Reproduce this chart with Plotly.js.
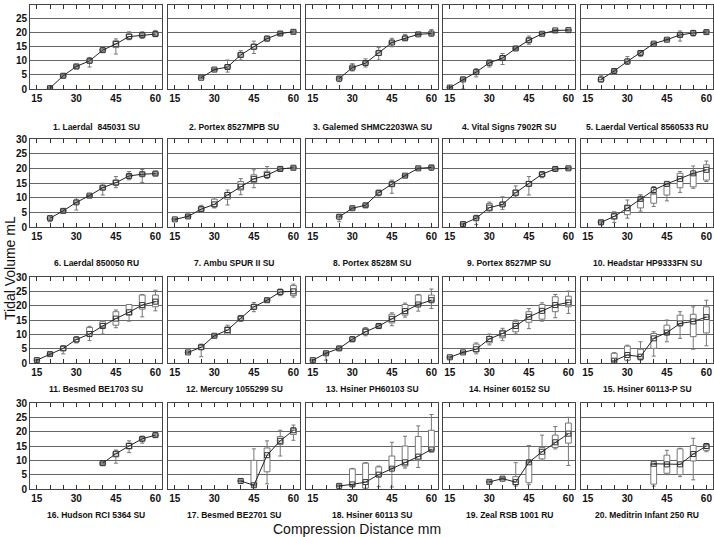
<!DOCTYPE html>
<html><head><meta charset="utf-8">
<script src="https://cdn.plot.ly/plotly-3.0.1.min.js"></script>
<style>html,body{margin:0;padding:0;background:#fff}</style>
</head><body><div id="chart" style="width:714px;height:537px"></div>
<script>
const distances = [15,20,25,30,35,40,45,50,55,60];
const panelTitles = ["1. Laerdal  845031 SU","2. Portex 8527MPB SU","3. Galemed SHMC2203WA SU","4. Vital Signs 7902R SU","5. Laerdal Vertical 8560533 RU",
"6. Laerdal 850050 RU","7. Ambu SPUR II SU","8. Portex 8528M SU","9. Portex 8527MP SU","10. Headstar HP9333FN SU",
"11. Besmed BE1703 SU","12. Mercury 1055299 SU","13. Hsiner PH60103 SU","14. Hsiner 60152 SU","15. Hsiner 60113-P SU",
"16. Hudson RCI 5364 SU","17. Besmed BE2701 SU","18. Hsiner 60113 SU","19. Zeal RSB 1001 RU","20. Meditrin Infant 250 RU"];
const yLabel = "Tidal Volume mL";
const xLabel = "Compression Distance mm";
const N = null;
// line values (connected points)
const means = [
[N,0.3,4.7,8.0,10.0,13.8,16.0,18.6,19.1,19.5],
[N,N,4.0,6.9,7.8,12.1,15.0,17.9,19.7,20.3],
[N,N,3.7,7.6,9.2,12.8,16.5,18.0,19.4,19.7],
[0.5,3.4,6.0,9.3,11.0,14.4,17.3,19.6,20.8,20.9],
[N,3.4,6.4,9.8,12.8,16.1,17.5,19.2,19.9,20.2],
[N,3.0,5.5,8.4,10.7,13.4,15.1,17.4,18.0,18.2],
[2.6,3.6,6.1,7.7,10.9,13.8,16.4,17.7,19.8,20.2],
[N,N,3.5,6.4,7.4,11.7,14.6,17.5,20.0,20.3],
[N,1.0,3.0,6.6,7.7,11.7,14.7,18.0,19.8,20.0],
[N,1.6,3.6,6.4,9.6,12.6,14.7,16.4,18.3,19.5],
[1.0,3.1,5.1,8.2,10.1,12.9,15.5,17.7,20.2,21.4],
[N,3.7,5.5,9.5,11.5,15.6,19.6,21.9,24.8,25.0],
[1.0,3.4,5.1,8.3,10.9,12.9,15.4,18.1,20.4,21.9],
[2.0,3.7,4.8,8.4,10.3,12.9,16.1,18.2,20.2,21.1],
[N,N,0.8,2.8,2.2,8.6,10.6,13.8,14.5,16.0],
[N,N,N,N,N,9.0,12.3,15.0,17.5,18.8],
[N,N,N,N,N,2.8,1.3,11.8,16.8,20.5],
[N,N,1.1,1.6,2.4,5.0,7.1,9.3,11.3,13.8],
[N,N,N,2.5,3.6,2.4,9.3,13.0,16.3,19.3],
[N,N,N,N,N,8.8,8.6,8.6,12.2,15.0]];
const q1s = [
[N,0.2,4.3,7.5,9.5,13.4,14.7,17.9,18.6,19.0],
[N,N,3.8,6.6,7.3,11.4,14.2,17.4,19.3,20.0],
[N,N,3.3,7.2,8.8,12.0,16.0,17.6,19.1,19.3],
[0.3,3.0,5.6,8.9,10.5,14.0,16.7,19.3,20.6,20.7],
[N,2.8,6.1,9.3,12.3,15.8,17.2,18.7,19.5,20.0],
[N,2.6,5.2,7.9,10.4,12.9,14.4,17.0,17.6,17.8],
[2.4,3.3,5.5,7.0,9.5,12.6,15.2,17.0,19.3,19.9],
[N,N,3.2,6.1,7.0,11.0,14.0,17.2,19.7,20.0],
[N,0.8,2.7,5.5,7.2,10.8,14.0,17.3,19.4,19.7],
[N,1.3,2.8,4.2,6.5,8.1,10.9,13.4,13.7,16.0],
[0.8,2.8,4.4,7.4,9.8,12.4,13.2,16.7,18.8,19.6],
[N,3.5,4.8,9.2,10.1,15.0,18.8,21.5,24.0,23.5],
[0.8,3.0,4.7,7.8,10.0,12.4,14.0,16.7,20.2,21.4],
[1.8,3.5,3.9,7.0,8.8,10.9,14.2,15.3,17.9,19.6],
[N,N,0.5,1.0,1.3,5.1,10.3,13.2,9.2,10.5],
[N,N,N,N,N,8.5,11.2,14.0,17.0,18.4],
[N,N,N,N,N,2.6,1.3,6.0,15.5,19.0],
[N,N,0.9,1.3,0.3,4.5,7.0,8.0,10.0,13.5],
[N,N,N,2.3,3.4,1.5,2.2,10.5,14.5,16.0],
[N,N,N,N,N,1.7,5.5,5.0,9.8,13.5]];
const q3s = [
[N,0.5,5.0,8.4,10.5,14.2,17.1,19.5,19.6,20.0],
[N,N,4.2,7.2,8.5,12.8,15.9,18.4,20.1,20.6],
[N,N,4.1,8.0,9.7,13.5,17.0,18.6,19.7,20.1],
[0.7,3.8,6.4,9.7,11.7,14.8,17.9,19.9,21.0,21.1],
[N,4.0,6.7,10.3,13.3,16.4,17.8,19.8,20.3,20.5],
[N,3.4,5.9,8.9,11.0,14.0,16.0,17.9,18.5,18.7],
[2.9,3.9,6.8,9.5,11.8,15.5,17.8,19.0,20.2,20.5],
[N,N,3.8,6.7,7.8,12.2,15.2,17.8,20.2,20.6],
[N,1.2,3.5,8.0,8.3,12.6,15.5,18.6,20.2,20.3],
[N,2.0,4.6,7.5,9.6,11.5,14.7,18.3,18.3,21.2],
[1.2,3.4,5.8,8.8,12.4,14.4,17.9,20.4,23.7,23.7],
[N,3.9,6.2,9.8,12.6,16.2,20.3,22.3,25.5,27.0],
[1.2,3.7,5.5,8.8,12.0,13.4,17.0,20.4,23.7,23.7],
[2.2,3.9,6.6,9.2,11.4,14.4,17.9,20.4,23.1,23.3],
[N,N,3.4,5.9,4.8,10.3,13.2,16.7,17.0,19.6],
[N,N,N,N,N,9.3,13.0,16.0,18.0,19.2],
[N,N,N,N,N,3.0,10.0,14.3,18.3,21.0],
[N,N,1.3,7.0,9.0,7.7,11.5,15.0,18.3,20.5],
[N,N,N,2.7,3.8,4.3,9.5,14.5,18.8,23.0],
[N,N,N,N,N,8.9,11.8,14.0,15.2,15.5]];
const lows = [
[N,0.0,4.0,7.2,7.8,13.0,12.4,17.5,18.0,18.6],
[N,N,3.6,6.4,6.0,10.3,12.6,17.0,19.0,19.8],
[N,N,2.6,6.4,7.8,10.3,15.0,17.3,18.9,18.8],
[0.1,0.0,4.3,7.8,8.7,13.8,15.9,19.1,20.4,20.5],
[N,2.5,5.9,8.7,11.5,15.6,17.0,17.0,18.8,19.7],
[N,1.8,4.9,5.8,10.2,10.9,13.4,16.1,15.2,17.5],
[2.2,3.1,5.0,6.5,7.5,11.0,13.4,16.5,19.0,19.7],
[N,N,1.8,6.0,6.6,10.6,11.5,17.0,19.5,19.3],
[N,0.6,0.8,5.0,6.0,10.2,10.9,16.8,19.1,19.5],
[N,0.8,1.5,3.0,5.4,7.0,8.9,11.8,13.2,15.5],
[0.6,2.6,3.2,7.0,7.8,10.1,12.3,14.6,16.1,18.2],
[N,3.3,2.2,9.0,9.9,14.5,17.9,21.2,23.5,23.0],
[0.6,1.0,4.4,7.4,9.5,12.0,13.0,16.0,18.1,19.0],
[1.6,3.3,3.2,6.3,7.8,10.1,12.0,14.6,15.8,17.3],
[N,N,0.3,0.8,1.0,2.4,7.4,8.6,4.8,6.0],
[N,N,N,N,N,8.2,9.0,12.7,16.0,18.0],
[N,N,N,N,N,2.4,1.0,1.8,11.5,17.0],
[N,N,0.8,1.0,0.0,0.8,0.7,7.3,7.5,13.0],
[N,N,N,2.1,3.2,1.0,1.5,10.0,14.0,8.2],
[N,N,N,N,N,1.0,5.0,4.3,3.2,13.0]];
const highs = [
[N,0.8,5.4,8.8,11.2,14.5,17.8,20.3,20.3,20.8],
[N,N,4.4,7.4,10.3,13.6,17.0,18.8,20.4,20.9],
[N,N,4.5,9.0,10.7,14.7,18.0,19.4,19.9,21.1],
[0.9,4.2,7.2,10.3,12.6,15.0,18.8,20.1,21.2,21.3],
[N,4.9,6.9,11.5,13.6,16.6,18.0,20.6,20.8,20.8],
[N,3.8,6.2,10.0,11.2,14.9,17.2,18.9,19.6,19.0],
[3.0,4.2,7.4,10.0,12.6,16.5,19.5,20.6,20.6,20.7],
[N,N,4.2,6.9,8.0,12.5,16.0,18.0,20.5,21.0],
[N,1.4,4.0,8.5,10.3,14.0,17.2,18.9,20.4,20.5],
[N,2.3,5.2,9.2,11.0,13.8,15.0,18.9,20.8,22.5],
[1.4,3.6,6.0,9.2,12.8,14.8,18.5,20.4,23.9,25.4],
[N,4.1,6.6,10.0,13.2,16.6,21.1,22.6,25.8,27.5],
[1.4,3.9,5.8,9.2,12.4,13.8,17.5,20.9,23.9,25.8],
[2.4,4.1,7.0,10.1,12.1,15.0,19.0,21.0,23.9,25.1],
[N,N,3.6,6.2,7.4,10.9,15.0,17.9,19.6,21.9],
[N,N,N,N,N,9.6,13.6,16.8,18.4,19.5],
[N,N,N,N,N,3.2,14.0,16.8,20.5,22.3],
[N,N,1.5,7.2,9.2,8.0,16.3,18.4,22.0,26.0],
[N,N,N,2.9,4.0,9.2,15.2,18.8,21.8,25.0],
[N,N,N,N,N,9.0,13.5,14.2,17.7,15.5]];
const yTicks = [0,5,10,15,20,25,30];

const W=714, H=537;
const colLeft=[30,168,306,443,581], colW=132;
const rowTop=[4.5,139,277,403], rowBot=[89,227,363,489];
const titleY=[127,263,389,515];
const fam='"Liberation Sans", Arial, sans-serif';
const tickFont={family:fam,size:10,color:'#111',weight:'bold'};
const titleFont={family:fam,size:8.5,color:'#111',weight:'bold'};
const traces=[];
const layout={width:W,height:H,margin:{l:0,r:0,t:0,b:0},showlegend:false,
  paper_bgcolor:'white',plot_bgcolor:'white',annotations:[]};
for(let p=0;p<20;p++){
  const r=Math.floor(p/5), c=p%5, s=p===0?'':String(p+1);
  const xs=[],m=[],a=[],b=[],lo=[],hi=[],md=[];
  distances.forEach((d,i)=>{
    if(means[p][i]!==null){
      xs.push(d); m.push(means[p][i]); a.push(q1s[p][i]); b.push(q3s[p][i]);
      lo.push(lows[p][i]); hi.push(highs[p][i]);
      md.push(Math.min(Math.max(means[p][i],q1s[p][i]),q3s[p][i]));
    }
  });
  traces.push({type:'box',orientation:'v',x:xs,q1:a,median:md,q3:b,lowerfence:lo,upperfence:hi,
    xaxis:'x'+s,yaxis:'y'+s,width:2.2,whiskerwidth:0.7,fillcolor:'white',
    line:{color:'#777',width:1},hoverinfo:'skip',boxpoints:false});
  traces.push({type:'scatter',mode:'lines+markers',x:xs,y:m,xaxis:'x'+s,yaxis:'y'+s,
    line:{color:'#222',width:1},marker:{symbol:'square-open',size:5,color:'#333',line:{width:1,color:'#333'}},hoverinfo:'skip'});
  layout['xaxis'+s]={domain:[colLeft[c]/W,(colLeft[c]+colW)/W],anchor:'y'+s,range:[12.4,62.5],
    tickmode:'array',tickvals:distances,ticktext:distances.map(d=>d%15===0?String(d):''),
    ticks:'inside',ticklen:4,tickwidth:1,tickcolor:'#333',showline:true,mirror:'ticks',linecolor:'#444',linewidth:1,
    showgrid:false,zeroline:false,tickfont:tickFont,fixedrange:true};
  layout['yaxis'+s]={domain:[1-rowBot[r]/H,1-rowTop[r]/H],anchor:'x'+s,range:[0,30],
    tickmode:'array',tickvals:yTicks,showticklabels:c===0,ticks:'',showline:true,mirror:true,linecolor:'#444',linewidth:1,
    showgrid:true,gridcolor:'#666',gridwidth:1,zeroline:false,tickfont:tickFont,fixedrange:true};
  layout.annotations.push({text:panelTitles[p],xref:'paper',yref:'paper',x:(colLeft[c]+colW/2)/W,y:1-titleY[r]/H,
    showarrow:false,font:titleFont,xanchor:'center',yanchor:'middle'});
}
layout.annotations.push({text:yLabel,xref:'paper',yref:'paper',x:10/W,y:1-268/H,textangle:-90,showarrow:false,
  font:{family:fam,size:14,color:'#111'},xanchor:'center',yanchor:'middle'});
layout.annotations.push({text:xLabel,xref:'paper',yref:'paper',x:357/W,y:1-529/H,showarrow:false,
  font:{family:fam,size:14,color:'#111'},xanchor:'center',yanchor:'middle'});
Plotly.newPlot('chart',traces,layout,{staticPlot:true,displayModeBar:false});
</script></body></html>
